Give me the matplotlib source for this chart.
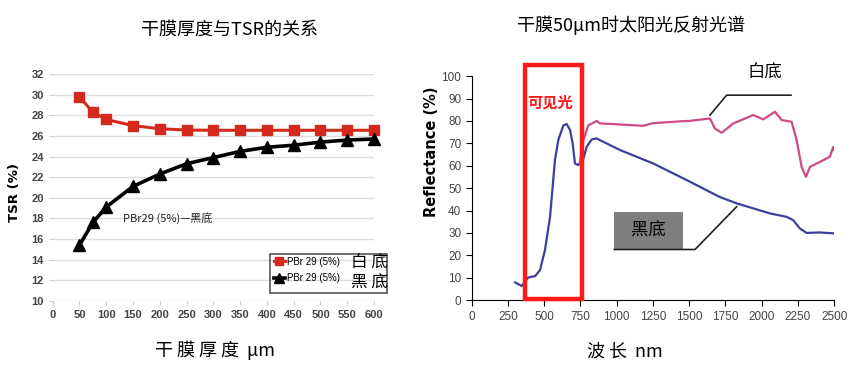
import numpy as np
import matplotlib
import matplotlib.pyplot as plt
import matplotlib.patches as patches

# Data
# ----------
thickness = [50, 75, 100, 150, 200, 250, 300, 350, 400, 450, 500, 550, 600]
tsr_white = [29.8, 28.3, 27.6, 27.0, 26.7, 26.57, 26.55, 26.55, 26.55, 26.55, 26.55, 26.55, 26.55]
tsr_black = [15.4, 17.6, 19.1, 21.1, 22.3, 23.3, 23.9, 24.5, 24.9, 25.1, 25.4, 25.6, 25.7]

wl_black = [299, 345, 390, 437, 471, 505, 540, 574, 597, 632, 655, 678, 696, 712,
            735, 770, 793, 827, 862, 885, 1023, 1252, 1482, 1712, 1827, 2057,
            2171, 2217, 2263, 2309, 2400, 2500]
refl_black = [7.9, 6.3, 10.1, 10.7, 13.4, 22.3, 37.0, 62.5, 71.4, 78.0, 78.6, 76.0,
              70.0, 61.0, 60.3, 63.0, 68.5, 71.7, 72.2, 71.4, 67.0, 61.0, 53.6,
              46.0, 43.2, 38.7, 37.2, 35.7, 32.0, 30.0, 30.2, 29.8]

wl_white = [745, 770, 804, 862, 885, 1000, 1183, 1250, 1459, 1500, 1643, 1677,
            1724, 1804, 1942, 2011, 2091, 2137, 2206, 2241, 2275, 2305, 2333,
            2401, 2470, 2493, 2500]
refl_white = [61.0, 71.4, 78.0, 80.0, 78.9, 78.5, 77.8, 79.0, 79.9, 80.0, 81.1,
              76.6, 74.7, 78.9, 82.6, 80.7, 84.1, 80.4, 79.6, 71.4, 59.5, 55.0,
              59.5, 61.7, 64.0, 68.4, 67.0]

visible_band = (370, 760)
# ----------

plt.rcParams['font.family'] = ['Noto Sans CJK SC', 'DejaVu Sans']
num_font = ['Liberation Sans Narrow', 'Liberation Sans', 'DejaVu Sans']

fig = plt.figure(figsize=(8.53, 3.66), dpi=100, facecolor='white')

# Left chart: TSR vs dry film thickness
ax1 = fig.add_axes([0.0618, 0.1784, 0.3767, 0.619])
ax1.set_xlim(0, 600)
ax1.set_ylim(10, 32)
ax1.set_xticks(np.arange(0, 601, 50))
ax1.set_yticks(np.arange(10, 33, 2))
ax1.grid(axis='y', color='#dddddd', lw=1)
ax1.set_axisbelow(True)
for s in ax1.spines.values():
    s.set_visible(False)
ax1.tick_params(length=3, color='#cccccc', labelsize=8, labelcolor='#444444')
for lab in ax1.get_xticklabels() + ax1.get_yticklabels():
    lab.set_family(num_font)
    lab.set_fontweight('bold')

l_white, = ax1.plot(thickness, tsr_white, color='#d42a1e', lw=2.2, marker='s',
                    ms=6.5, clip_on=False, zorder=3)
l_black, = ax1.plot(thickness, tsr_black, color='black', lw=2.6, marker='^',
                    ms=8.5, clip_on=False, zorder=3)
ax1.text(131, 18, 'PBr29 (5%)—黑底', fontsize=8, va='center', color='#222222')

# legend, drawn by hand so the big Chinese labels fit in the frame
fig.patches.append(patches.Rectangle((0.3165, 0.1995), 0.137, 0.1066,
                                     transform=fig.transFigure, fill=False,
                                     edgecolor='#555555', lw=1.2))
fig.legend([l_white, l_black], ['PBr 29 (5%)', 'PBr 29 (5%)'],
           loc='upper left', bbox_to_anchor=(0.319, 0.304), frameon=False,
           prop={'family': num_font, 'size': 7}, handlelength=1.1,
           handletextpad=0.25, labelspacing=0.65, borderpad=0.2,
           borderaxespad=0, markerscale=0.8)
fig.text(351 / 853, 1 - 263 / 366, '白 底', fontsize=12, va='center')
fig.text(351 / 853, 1 - 283 / 366, '黑 底', fontsize=12, va='center')

fig.text(230 / 853, 1 - 30 / 366, '干膜厚度与TSR的关系', fontsize=13,
         ha='center', va='center')
fig.text(215 / 853, 1 - 350 / 366, '干 膜 厚 度  μm', fontsize=13,
         ha='center', va='center')
fig.text(15 / 853, 1 - 193 / 366, 'TSR (%)', fontsize=9.5, fontweight='bold',
         rotation=90, ha='center', va='center', family='DejaVu Sans')

# Right chart: reflectance spectrum
ax2 = fig.add_axes([0.553, 0.18, 0.425, 0.612])
ax2.set_xlim(0, 2500)
ax2.set_ylim(0, 100)
ax2.set_xticks(np.arange(0, 2501, 250))
ax2.set_yticks(np.arange(0, 101, 10))
ax2.spines['top'].set_visible(False)
ax2.spines['right'].set_visible(False)
ax2.tick_params(length=4, labelsize=8.5, labelcolor='#444444')
for lab in ax2.get_xticklabels() + ax2.get_yticklabels():
    lab.set_family(num_font)

ax2.plot(wl_black, refl_black, color='#3c3f9e', lw=1.6)
ax2.plot(wl_white, refl_white, color='#cc4a86', lw=1.6)

ax2.add_patch(patches.Rectangle((visible_band[0], 0.3), visible_band[1] - visible_band[0],
                                104.6, fill=False, edgecolor='#ff1a1a', lw=3.2,
                                clip_on=False, zorder=4))
ax2.text(540, 88, '可见光', color='#ff1a1a', fontsize=11, fontweight='bold',
         ha='center', va='center')

# callouts
ax2.plot([1643, 1758, 2202], [82.6, 91.5, 91.5], color='#222222', lw=1.2, clip_on=False)
ax2.text(2023, 101.5, '白底', fontsize=12.5, ha='center', va='center')
ax2.add_patch(patches.Rectangle((983, 22.6), 476, 16.8, facecolor='#7f7f7f',
                                edgecolor='none', zorder=2))
ax2.text(1221, 31, '黑底', fontsize=12.5, ha='center', va='center', zorder=3)
ax2.plot([983, 1540, 1827], [22.6, 22.6, 41.7], color='#222222', lw=1.2, zorder=3)

fig.text(631 / 853, 1 - 25 / 366, '干膜50μm时太阳光反射光谱', fontsize=13,
         ha='center', va='center')
fig.text(625 / 853, 1 - 352 / 366, '波 长  nm', fontsize=13,
         ha='center', va='center')
fig.text(432 / 853, 1 - 152 / 366, 'Reflectance (%)', fontsize=10.5,
         fontweight='bold', rotation=90, ha='center', va='center',
         family='DejaVu Sans')

plt.savefig('out.png', dpi=100, facecolor='white')
